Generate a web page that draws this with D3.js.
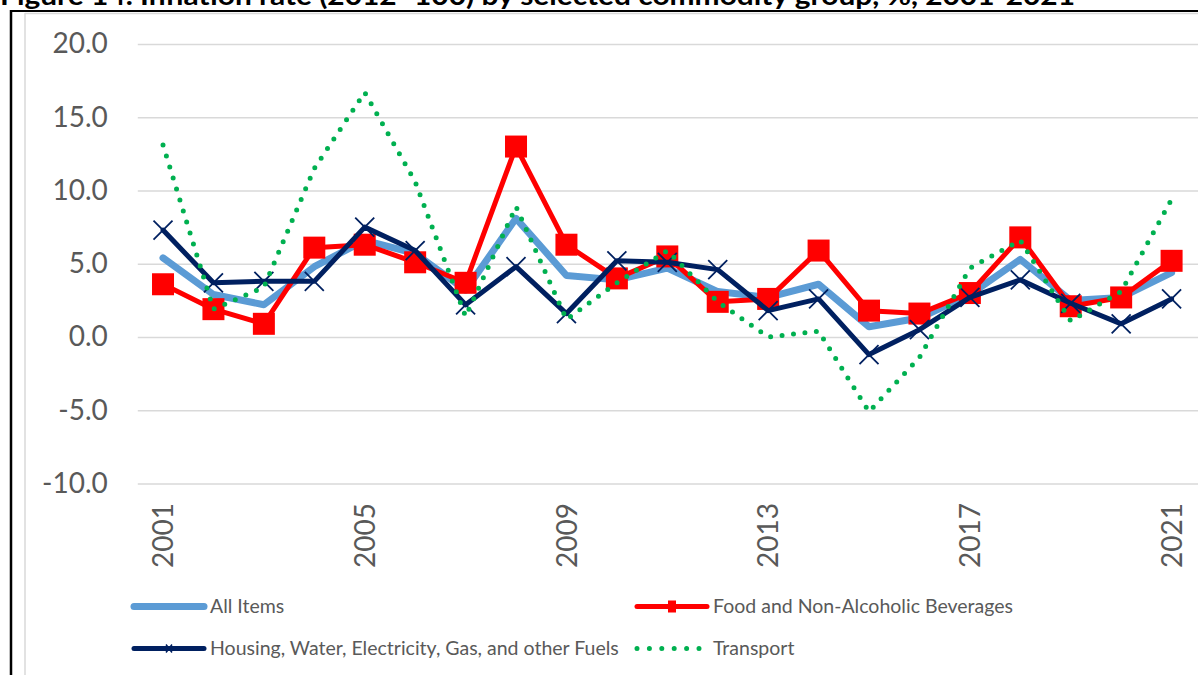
<!DOCTYPE html>
<html>
<head>
<meta charset="utf-8">
<script src="https://cdn.jsdelivr.net/npm/d3@7"></script>
<style>
  html, body { margin: 0; padding: 0; background: #fff; overflow: hidden; }
  svg { display: block; }
</style>
</head>
<body>
<svg id="chart" width="1198" height="675"></svg>
<script>
// Inflation rate by selected commodity group, %, 2001-2021
const years = [2001, 2002, 2003, 2004, 2005, 2006, 2007, 2008, 2009, 2010, 2011,
               2012, 2013, 2014, 2015, 2016, 2017, 2018, 2019, 2020, 2021];
const allItems = [5.4, 2.9, 2.2, 4.8, 6.6, 5.7, 3.2, 8.1, 4.2, 3.9, 4.7,
                  3.1, 2.7, 3.6, 0.7, 1.3, 2.9, 5.3, 2.5, 2.7, 4.4];
const food = [3.6, 1.9, 0.9, 6.1, 6.3, 5.1, 3.7, 13.0, 6.3, 4.0, 5.5,
              2.4, 2.6, 5.9, 1.8, 1.6, 3.0, 6.8, 2.1, 2.7, 5.2];
const housing = [7.3, 3.7, 3.8, 3.8, 7.5, 5.9, 2.2, 4.8, 1.6, 5.2, 5.1,
                 4.6, 1.8, 2.6, -1.2, 0.5, 2.7, 3.9, 2.3, 0.9, 2.6];
const transport = [13.1, 1.9, 3.4, 11.5, 16.7, 10.6, 1.4, 8.9, 1.2, 3.7, 5.9,
                   2.4, 0.0, 0.4, -5.1, -1.4, 4.7, 6.6, 1.1, 3.1, 9.4];
const yearLabels = [2001, 2005, 2009, 2013, 2017, 2021];
const yTicks = [-10, -5, 0, 5, 10, 15, 20];
const seriesNames = ["All Items", "Food and Non-Alcoholic Beverages",
                     "Housing, Water, Electricity, Gas, and other Fuels", "Transport"];
const titleText = "Figure 14. Inflation rate (2012=100) by selected commodity group, %, 2001-2021";

const svg = d3.select("#chart");
const FONT = "Lato, 'Open Sans', sans-serif";
const TEXT_GREY = "#595959";
const GRID = "#d9d9d9";

// Title (runs over the top edge of the page)
svg.append("text")
  .attr("x", 0).attr("y", 5)
  .attr("font-family", FONT).attr("font-weight", 700).attr("font-size", 26)
  .attr("textLength", 1075).attr("lengthAdjust", "spacingAndGlyphs")
  .attr("fill", "#000")
  .text(titleText);

// Figure frame and chart-area border
svg.append("line").attr("x1", 25).attr("x2", 1198).attr("y1", 13.5).attr("y2", 13.5)
  .attr("stroke", GRID).attr("stroke-width", 1.5);
svg.append("line").attr("x1", 25).attr("x2", 25).attr("y1", 13).attr("y2", 675)
  .attr("stroke", GRID).attr("stroke-width", 1.5);
svg.append("line").attr("x1", 10).attr("x2", 1198).attr("y1", 11).attr("y2", 11)
  .attr("stroke", "#000").attr("stroke-width", 2);
svg.append("line").attr("x1", 11).attr("x2", 11).attr("y1", 10).attr("y2", 675)
  .attr("stroke", "#000").attr("stroke-width", 2.5);

// Scales
const x = d3.scaleBand().domain(years).range([137.8, 1196.8]).padding(0);
const cx = d => x(d) + x.bandwidth() / 2;
const y = d3.scaleLinear().domain([-10, 20]).range([483.5, 44]);

// Gridlines + y tick labels
const yAxis = d3.axisLeft(y)
  .tickValues(yTicks)
  .tickSize(-(1198 - 137.8))
  .tickPadding(30)
  .tickFormat(d => d.toFixed(1));
const gy = svg.append("g").attr("transform", "translate(137.8,0)").call(yAxis);
gy.select(".domain").remove();
gy.selectAll(".tick line").attr("stroke", GRID).attr("stroke-width", 1.5);
gy.selectAll(".tick text")
  .attr("font-family", FONT).attr("font-size", 28).attr("fill", TEXT_GREY);

// x labels, rotated
const xAxis = d3.axisBottom(x).tickValues(yearLabels).tickSize(0).tickPadding(0);
const gx = svg.append("g").attr("transform", "translate(0,503)").call(xAxis);
gx.select(".domain").remove();
gx.selectAll(".tick text")
  .attr("font-family", FONT).attr("font-size", 28).attr("fill", TEXT_GREY)
  .attr("text-anchor", "end")
  .attr("transform", "rotate(-90)")
  .attr("x", 0).attr("y", 0).attr("dy", "0.36em");

const line = d3.line().x((d, i) => cx(years[i])).y(d => y(d));

// All Items
svg.append("path").datum(allItems).attr("d", line)
  .attr("fill", "none").attr("stroke", "#5b9bd5").attr("stroke-width", 7)
  .attr("stroke-linejoin", "round").attr("stroke-linecap", "round");

// Food and Non-Alcoholic Beverages
svg.append("path").datum(food).attr("d", line)
  .attr("fill", "none").attr("stroke", "#ff0000").attr("stroke-width", 5)
  .attr("stroke-linejoin", "round").attr("stroke-linecap", "round");
const SQ = 22;
svg.append("g").selectAll("rect").data(food).join("rect")
  .attr("x", (d, i) => cx(years[i]) - SQ / 2).attr("y", d => y(d) - SQ / 2)
  .attr("width", SQ).attr("height", SQ).attr("fill", "#ff0000");

// Housing, Water, Electricity, Gas, and other Fuels
svg.append("path").datum(housing).attr("d", line)
  .attr("fill", "none").attr("stroke", "#002060").attr("stroke-width", 5)
  .attr("stroke-linejoin", "round").attr("stroke-linecap", "round");
const XS = 9.5;
const crossPath = `M${-XS},${-XS}L${XS},${XS}M${-XS},${XS}L${XS},${-XS}`;
svg.append("g").selectAll("path").data(housing).join("path")
  .attr("transform", (d, i) => `translate(${cx(years[i])},${y(d)})`)
  .attr("d", crossPath).attr("fill", "none")
  .attr("stroke", "#002060").attr("stroke-width", 1.8);

// Transport (round dots)
svg.append("path").datum(transport).attr("d", line)
  .attr("fill", "none").attr("stroke", "#00b050").attr("stroke-width", 5)
  .attr("stroke-linejoin", "round").attr("stroke-linecap", "round")
  .attr("stroke-dasharray", "0 11.5");

// Legend
const legend = svg.append("g");
const legendItems = [
  { name: seriesNames[0], x: 134, y: 606.5, color: "#5b9bd5", w: 7, len: 70, marker: null, dash: null },
  { name: seriesNames[1], x: 637, y: 606.5, color: "#ff0000", w: 5, len: 70, marker: "square", dash: null },
  { name: seriesNames[2], x: 134, y: 648.5, color: "#002060", w: 5, len: 70, marker: "cross", dash: null },
  { name: seriesNames[3], x: 637, y: 648.5, color: "#00b050", w: 5, len: 62, marker: null, dash: "0 12.4" }
];
legendItems.forEach(it => {
  const g = legend.append("g");
  g.append("line")
    .attr("x1", it.x).attr("x2", it.x + it.len).attr("y1", it.y).attr("y2", it.y)
    .attr("stroke", it.color).attr("stroke-width", it.w)
    .attr("stroke-linecap", "round")
    .attr("stroke-dasharray", it.dash);
  if (it.marker === "square") {
    g.append("rect").attr("x", it.x + 35 - 4).attr("y", it.y - 6)
      .attr("width", 8).attr("height", 12).attr("fill", it.color);
  } else if (it.marker === "cross") {
    g.append("path").attr("transform", `translate(${it.x + 35},${it.y})`)
      .attr("d", "M-3,-4L3,4M-3,4L3,-4").attr("stroke", it.color).attr("stroke-width", 1.5);
  }
  g.append("text").attr("x", it.x + 76).attr("y", it.y).attr("dy", "0.35em")
    .attr("font-family", FONT).attr("font-size", 19.5).attr("fill", TEXT_GREY)
    .text(it.name);
});
</script>
</body>
</html>
